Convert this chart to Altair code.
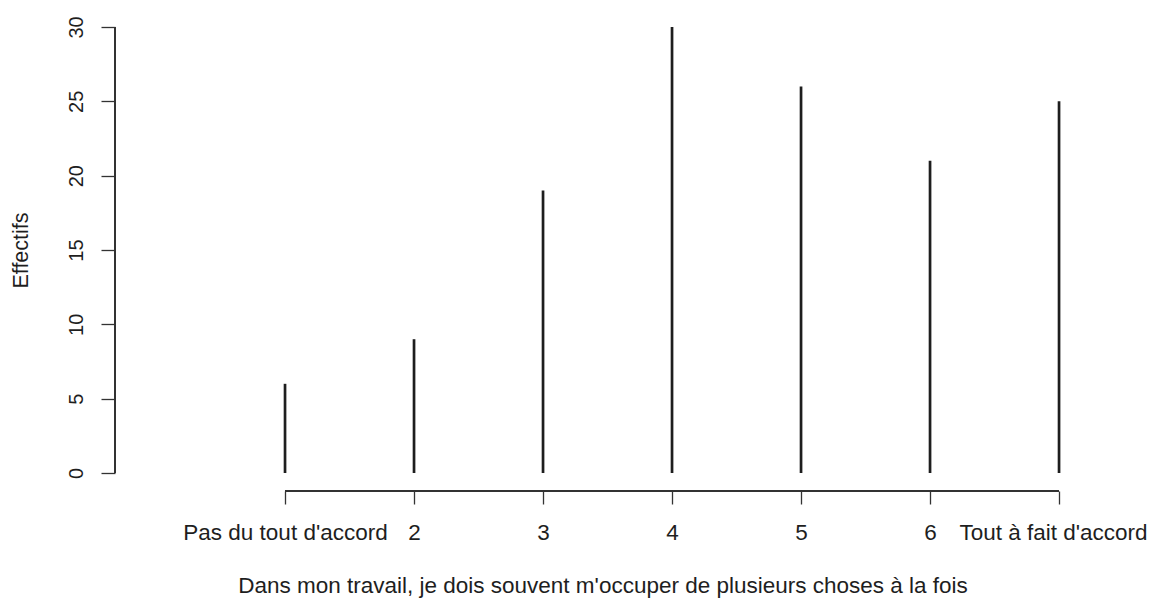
import altair as alt
import pandas as pd

positions = [1, 2, 3, 4, 5, 6, 7]
labels = ["Pas du tout d'accord", "2", "3", "4", "5", "6", "Tout à fait d'accord"]
counts = [6, 9, 19, 30, 26, 21, 25]
y_ticks = [0, 5, 10, 15, 20, 25, 30]

df = pd.DataFrame({"pos": positions, "n": counts, "lab": labels})

FONT = "Liberation Sans"
INK = "#1e1e1e"
W, H = 975, 482
xdom = [-0.318, 7.24]
ydom = [-1.21, 31.21]

label_expr = "{" + ",".join(f"'{p}': \"{l}\"" for p, l in zip(positions, labels)) + "}[datum.value]"

xscale = alt.Scale(domain=xdom, nice=False, zero=False)
yscale = alt.Scale(domain=ydom, nice=False, zero=False)

xaxis = alt.Axis(
    values=positions, labelExpr=label_expr, domain=False, grid=False,
    tickSize=13, tickColor="#333", tickWidth=1.3, labelPadding=17,
    labelFont=FONT, labelFontSize=22.5, labelColor=INK, labelAngle=0,
    labelAlign="center", labelBaseline="top", labelLimit=0,
    labelOffset={"condition": {"test": f"datum.value == {max(positions)}", "value": -6}, "value": 0},
    title="Dans mon travail, je dois souvent m'occuper de plusieurs choses à la fois",
    titleFont=FONT, titleFontSize=22.5, titleFontWeight="normal", titleColor=INK,
    titleX=W / 2, titleY=101, titleBaseline="alphabetic", titleAlign="center",
    titleLimit=0, labelOverlap=False, labelFlush=False,
)
yaxis = alt.Axis(
    values=y_ticks, domain=False, grid=False,
    tickSize=14, tickColor="#333", tickWidth=1.3, labelPadding=15,
    labelFont=FONT, labelFontSize=20, labelColor=INK, labelAngle=270,
    labelAlign="center", labelBaseline="bottom",
    title="Effectifs", titleFont=FONT, titleFontSize=21.5, titleFontWeight="normal",
    titleColor=INK, titleAngle=270, titleX=-83, titleY=241,
    titleAlign="center", titleBaseline="bottom",
    labelOverlap=False, labelFlush=False,
)

bars = alt.Chart(df).mark_rule(color=INK, strokeWidth=2.7).encode(
    x=alt.X("pos:Q", scale=xscale, axis=xaxis),
    y=alt.Y("n:Q", scale=yscale, axis=yaxis),
    y2=alt.datum(0),
)

xline = alt.Chart(df).mark_rule(color="#333", strokeWidth=1.5).encode(
    x=alt.datum(min(positions), scale=xscale),
    x2=alt.datum(max(positions)),
    y=alt.value(H),
)
yline = alt.Chart(df).mark_rule(color="#333", strokeWidth=1.5).encode(
    x=alt.value(0),
    y=alt.datum(min(y_ticks), scale=yscale),
    y2=alt.datum(max(y_ticks)),
)

chart = alt.layer(bars, xline, yline).properties(
    width=W, height=H,
    autosize=alt.AutoSizeParams(type="none"),
    padding={"left": 107, "top": 1, "right": 58, "bottom": 107},
).configure(background="white").configure_view(stroke=None, strokeWidth=0)

chart.save("out.html", embed_options={"renderer": "svg", "actions": False})
